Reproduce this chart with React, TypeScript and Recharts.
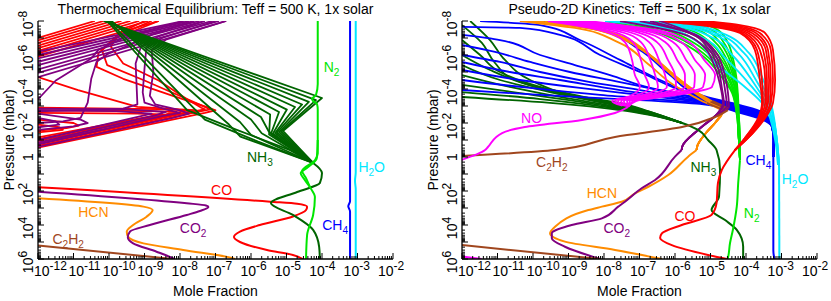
import React from 'react';
import { LineChart, Line, XAxis, YAxis, ReferenceDot } from 'recharts';

type Pt = [number, number]; // [log10 mole fraction, log10 pressure (mbar)]

const FONT = '"Liberation Sans", Arial, Helvetica, sans-serif';

// ---------- axes ----------
const X_MAJOR = [-12, -11, -10, -9, -8, -7, -6, -5, -4, -3, -2];
const Y_MAJOR = [-8, -7, -6, -5, -4, -3, -2, -1, 0, 1, 2, 3, 4, 5, 6];
const Y_LABELED = [-8, -6, -4, -2, 0, 2, 4, 6];
const MINOR_FACTORS = [2, 3, 4, 5, 6, 7, 8, 9];

// ---------- colours ----------
const RED = '#ff0000';
const PURPLE = '#800080';
const DGREEN = '#006400';
const GREEN = '#00e600';
const BLUE = '#0000ff';
const CYAN = '#00e8ff';
const ORANGE = '#ff8c00';
const BROWN = '#a0461e';
const MAGENTA = '#ff00ff';

// ================= LEFT: thermochemical equilibrium =================
const EQ_H2O: Pt[] = [[-3.05, -8], [-3.05, 0.9], [-3.07, 1.4], [-3.05, 1.9], [-3.05, 6]];
const EQ_CH4: Pt[] = [[-3.21, -8], [-3.21, 2.6], [-3.26, 2.9], [-3.21, 3.2], [-3.21, 6]];
const EQ_N2: Pt[] = [[-4.12, -8], [-4.12, -4.3], [-4.17, -3.65], [-4.28, -3.41], [-4.25, -3.29], [-4.14, -3.12], [-4.12, -2.8], [-4.12, -0.2], [-4.2, 0.2], [-4.56, 0.82], [-4.45, 1.24], [-4.34, 1.76], [-4.2, 2.35], [-4.25, 3.41], [-4.42, 4.59], [-4.45, 6]];
const EQ_N2_B: Pt[] = [[-4.12, -1.0], [-4.15, 0.1], [-4.4, 0.6], [-4.6, 0.95], [-4.5, 1.3], [-4.34, 1.76]];
const EQ_NH3: Pt[] = [[-4.25, 0.35], [-4.0, 0.94], [-4.06, 1.53], [-4.7, 2.06], [-5.44, 2.71], [-4.82, 3.41], [-4.25, 4.29], [-4.08, 5.29], [-4.06, 6]];
const EQ_CO: Pt[] = [[-12, 1.78], [-5.46, 2.63], [-4.7, 2.75], [-4.42, 2.92], [-4.45, 3.12], [-4.82, 3.5], [-5.75, 4.0], [-6.31, 4.39], [-6.48, 4.71], [-6.31, 5.0], [-5.55, 5.47], [-4.82, 5.76], [-4.54, 6]];
const EQ_CO2: Pt[] = [[-12, 2.04], [-7.81, 2.72], [-7.27, 2.85], [-7.2, 2.94], [-7.44, 3.18], [-7.81, 3.41], [-8.85, 4.0], [-9.41, 4.39], [-9.47, 4.72], [-9.32, 5.08], [-8.66, 5.57], [-8.19, 5.96], [-8.15, 6]];
const EQ_HCN: Pt[] = [[-12, 2.43], [-9.03, 2.92], [-8.77, 3.12], [-8.94, 3.51], [-9.32, 4.0], [-9.5, 4.39], [-9.46, 4.69], [-9.03, 5.08], [-7.91, 5.47], [-6.5, 5.96], [-6.45, 6]];
const EQ_C2H2: Pt[] = [[-12, 5.2], [-8.2, 6.0]];

const EQ_CO_BAND: Pt[][] = [
  [[-10.4, -8], [-12, -7.01]],
  [[-10.15, -8], [-12, -6.86]],
  [[-9.9, -8], [-12, -6.71]],
  [[-9.65, -8], [-12, -6.55]],
  [[-9.4, -8], [-12, -6.4]],
  [[-9.15, -8], [-12, -6.24]],
  [[-8.9, -8], [-12, -6.09]],
  [[-8.6, -8], [-12, -5.91]],
];
const EQ_CO_HOT: Pt[][] = [
  [[-8.6, -8], [-9.8, -7.0], [-10.3, -6.1], [-10.35, -5.3], [-9.6, -4.6], [-8.2, -3.6], [-7.2, -2.9], [-7.0, -2.75], [-7.3, -2.6], [-12, -0.55]],
  [[-8.8, -8], [-9.8, -7.1], [-10.2, -6.3], [-10.05, -5.4], [-9.0, -4.5], [-7.9, -3.5], [-7.3, -2.95], [-7.15, -2.8], [-7.5, -2.65], [-12, -0.65]],
  [[-9.0, -8], [-9.7, -7.3], [-9.95, -6.5], [-9.6, -5.5], [-8.6, -4.5], [-7.8, -3.4], [-7.4, -2.9], [-7.3, -2.8], [-7.7, -2.65], [-12, -0.75]],
  [[-12, -4.7], [-10.87, -3.94], [-9.2, -2.95], [-8.0, -2.8], [-7.55, -2.75], [-7.9, -2.6], [-12, -0.85]],
  [[-12, -2.9], [-8.6, -2.82], [-7.8, -2.75], [-8.1, -2.6], [-12, -0.95]],
  [[-12, -2.75], [-8.9, -2.7], [-8.1, -2.65], [-8.4, -2.5], [-12, -1.05]],
  [[-12, -2.6], [-9.2, -2.55], [-8.5, -2.5], [-8.8, -2.4], [-12, -1.15]],
  [[-12, -2.2], [-11.0, -2.0], [-10.85, -1.85], [-11.2, -1.7], [-12, -1.55]],
  [[-12, -1.9], [-11.4, -1.75], [-11.3, -1.6], [-12, -1.45]],
];
const EQ_CO2_BAND: Pt[][] = [
  [[-7.9, -8], [-12, -6.2]],
  [[-7.75, -8], [-12, -6.0]],
  [[-7.6, -8], [-12, -5.8]],
  [[-7.45, -8], [-12, -5.6]],
  [[-7.3, -8], [-12, -5.4]],
  [[-7.1, -8], [-12, -5.15]],
  [[-6.9, -8], [-12, -4.95]],
  [[-6.7, -8], [-12, -4.7]],
];
const EQ_CO2_HOT: Pt[][] = [
  [[-6.7, -8], [-8.4, -6.9], [-8.8, -6.3], [-8.75, -5.0], [-8.85, -3.6], [-8.7, -3.1], [-8.0, -2.75], [-7.75, -2.55], [-8.2, -2.3], [-12, -0.6]],
  [[-7.0, -8], [-8.5, -7.0], [-8.95, -6.4], [-9.0, -5.2], [-9.05, -3.8], [-9.0, -3.2], [-8.4, -2.8], [-8.0, -2.6], [-8.5, -2.4], [-12, -0.75]],
  [[-7.3, -8], [-8.6, -7.1], [-9.1, -6.5], [-9.25, -5.5], [-9.2, -3.1], [-9.6, -2.85], [-11.8, -2.7], [-12, -2.68]],
  [[-7.6, -8], [-8.8, -7.2], [-9.4, -6.6], [-10.0, -6.1], [-10.35, -5.6], [-10.5, -4.6], [-10.6, -3.2], [-10.8, -2.3], [-11.3, -2.1], [-12, -2.0]],
  [[-7.9, -8], [-9.6, -7.0], [-10.3, -6.3], [-10.5, -5.8], [-11.5, -4.5], [-12, -3.4]],
  [[-12, -2.85], [-9.5, -2.8], [-8.4, -2.65], [-8.7, -2.45], [-12, -0.85]],
  [[-12, -2.75], [-9.8, -2.7], [-8.8, -2.55], [-9.1, -2.4], [-12, -1.0]],
  [[-12, -2.55], [-10.8, -2.2], [-10.6, -2.0], [-11.0, -1.8], [-12, -1.6]],
  [[-12, -2.3], [-11.5, -2.1], [-11.4, -1.9], [-12, -1.75]],
];
const EQ_NH3_FAMILY: Pt[][] = [
  [[-10.15, -8], [-4.0, -3.47], [-5.1, -1.53], [-4.25, 0.35]],
  [[-10.13, -8], [-4.17, -3.35], [-5.15, -1.5], [-4.25, 0.35]],
  [[-10.11, -8], [-4.37, -3.24], [-5.21, -1.47], [-4.25, 0.35]],
  [[-10.09, -8], [-4.56, -3.09], [-5.27, -1.44], [-4.25, 0.35]],
  [[-10.07, -8], [-4.76, -2.94], [-5.32, -1.41], [-4.25, 0.35]],
  [[-10.05, -8], [-4.99, -2.79], [-5.38, -1.38], [-4.25, 0.35]],
  [[-10.03, -8], [-5.21, -2.65], [-5.44, -1.35], [-4.25, 0.35]],
  [[-10.01, -8], [-5.46, -2.5], [-5.49, -1.32], [-4.25, 0.35]],
  [[-9.99, -8], [-5.72, -2.35], [-5.5, -1.5], [-4.25, 0.35]],
  [[-9.97, -8], [-6.0, -2.21], [-5.7, -1.4], [-4.25, 0.35]],
  [[-9.95, -8], [-6.31, -2.06], [-6.0, -1.3], [-4.25, 0.35]],
  [[-9.93, -8], [-6.62, -1.91], [-6.3, -1.2], [-4.25, 0.35]],
  [[-10.05, -8], [-7.8, -2.76], [-6.4, -1.6], [-4.9, -0.4], [-4.25, 0.35]],
  [[-10.0, -8], [-7.3, -2.2], [-5.8, -0.9], [-4.25, 0.35]],
];

// ================= RIGHT: pseudo-2D kinetics =================
const KIN_H2O: Pt[] = [[-3.07, 0.3], [-3.06, 6]];
const KIN_CH4: Pt[] = [[-3.23, 0], [-3.23, 5.5], [-3.2, 6]];
const KIN_N2: Pt[] = [[-4.17, 0.18], [-4.22, 1.53], [-4.26, 2.92], [-4.37, 4.29], [-4.45, 5.06], [-4.51, 5.94], [-4.52, 6]];
const KIN_NH3: Pt[] = [[-7.49, -2.94], [-6.76, -2.59], [-5.8, -2.0], [-5.35, -1.59], [-5.07, -1.0], [-4.83, -0.41], [-4.73, 0.76], [-4.76, 2.34], [-4.97, 3.12], [-4.59, 3.71], [-4.26, 4.29], [-4.08, 5.28], [-4.08, 6]];
const KIN_CO: Pt[] = [[-4.31, -0.41], [-4.68, 0.76], [-4.79, 1.53], [-4.83, 2.71], [-4.97, 3.41], [-5.81, 4.0], [-6.37, 4.49], [-6.42, 4.76], [-6.09, 5.18], [-5.07, 5.76], [-4.54, 6]];
const KIN_HCN: Pt[] = [[-5.39, -0.41], [-5.63, -0.02], [-6.19, 1.06], [-6.75, 1.75], [-7.13, 2.14], [-7.5, 2.63], [-8.06, 2.92], [-8.44, 3.12], [-9.38, 4.1], [-9.52, 4.49], [-9.1, 4.98], [-7.69, 5.47], [-6.37, 6.0]];
const KIN_CO2: Pt[] = [[-5.81, -0.41], [-6.0, -0.02], [-6.56, 1.35], [-6.94, 1.84], [-7.41, 2.63], [-7.6, 2.92], [-8.06, 3.61], [-8.91, 4.0], [-9.47, 4.49], [-9.47, 4.78], [-9.1, 5.28], [-8.11, 6.0]];
const KIN_C2H2: Pt[] = [[-4.51, -2.76], [-4.87, -2.35], [-5.8, -1.76], [-7.69, -1.18], [-9.38, -0.41], [-12.03, -0.06]];
const KIN_C2H2_DEEP: Pt[] = [[-12, 5.18], [-8.11, 6.0]];
const KIN_NO: Pt[] = [[-7.32, -2.94], [-7.69, -2.59], [-8.62, -2.18], [-10.23, -1.76], [-10.87, -1.41], [-11.27, -0.59], [-11.35, -0.41], [-12.03, 0.18]];
const KIN_NO_DEEP: Pt[] = [[-12, 5.85], [-11.45, 6.0]];

const KIN_CH4_FAMILY: Pt[][] = [
  [[-12, -7.65], [-10.37, -7.59], [-9.24, -7.18], [-8.11, -6.0], [-6.99, -5.0], [-5.86, -3.94], [-5.3, -3.53], [-4.17, -2.95], [-3.55, -2.55], [-3.27, -1.9], [-3.22, -1.0], [-3.23, 0]],
  [[-12, -7.18], [-10.93, -6.88], [-9.8, -6.0], [-8.82, -5.41], [-7.83, -4.82], [-6.7, -4.06], [-5.3, -3.47], [-4.17, -2.9], [-3.55, -2.5], [-3.27, -1.88], [-3.22, -1.0], [-3.23, 0]],
  [[-12, -6.59], [-11.07, -6.18], [-10.08, -5.59], [-8.96, -5.0], [-7.55, -4.41], [-5.3, -3.41], [-4.17, -2.85], [-3.55, -2.45], [-3.27, -1.86], [-3.22, -1.0], [-3.23, 0]],
  [[-12, -6.0], [-10.93, -5.59], [-9.8, -5.0], [-8.39, -4.41], [-6.99, -3.94], [-5.3, -3.35], [-4.17, -2.8], [-3.55, -2.4], [-3.27, -1.84], [-3.22, -1.0], [-3.23, 0]],
  [[-12, -5.59], [-10.65, -5.0], [-9.24, -4.53], [-7.55, -3.94], [-5.3, -3.29], [-4.17, -2.75], [-3.55, -2.35], [-3.27, -1.82], [-3.22, -1.0], [-3.23, 0]],
  [[-12, -5.12], [-10.37, -4.53], [-8.68, -4.06], [-6.99, -3.65], [-5.3, -3.24], [-4.17, -2.7], [-3.55, -2.3], [-3.27, -1.8], [-3.22, -1.0], [-3.23, 0]],
  [[-12, -4.53], [-10.08, -4.06], [-8.11, -3.65], [-5.3, -3.18], [-4.17, -2.65], [-3.55, -2.25], [-3.27, -1.78], [-3.22, -1.0], [-3.23, 0]],
  [[-12, -3.94], [-9.8, -3.65], [-7.55, -3.41], [-5.3, -3.12], [-4.17, -2.6], [-3.55, -2.2], [-3.27, -1.76], [-3.22, -1.0], [-3.23, 0]],
  [[-11.49, -8], [-9.8, -7.76], [-8.68, -6.88], [-7.55, -5.71], [-6.42, -4.53], [-5.3, -3.59], [-4.17, -3.0], [-3.55, -2.6], [-3.27, -1.92], [-3.22, -1.0], [-3.23, 0]],
  [[-9.8, -8], [-8.11, -7.47], [-6.99, -6.29], [-6.14, -4.82], [-5.3, -3.65], [-4.17, -3.05], [-3.55, -2.65], [-3.27, -1.94], [-3.22, -1.0], [-3.23, 0]],
];
const KIN_NH3_FAMILY: Pt[][] = [
  [[-12, -7.76], [-11.44, -6.71], [-11.07, -5.53], [-10.51, -4.53], [-9.24, -3.76], [-7.49, -3.15], [-6.76, -2.7], [-5.8, -2.0]],
  [[-12, -6.88], [-11.49, -6.0], [-10.93, -5.0], [-9.8, -4.12], [-7.49, -3.05], [-6.76, -2.65], [-5.8, -2.0]],
  [[-12, -6.0], [-11.21, -5.12], [-10.37, -4.41], [-8.96, -3.65], [-7.49, -3.0], [-6.76, -2.62], [-5.8, -2.0]],
  [[-12, -5.41], [-10.93, -4.53], [-9.52, -3.82], [-7.49, -2.95], [-6.76, -2.6], [-5.8, -2.0]],
  [[-12, -4.82], [-10.65, -4.12], [-9.24, -3.53], [-7.49, -2.9], [-6.76, -2.57], [-5.8, -2.0]],
  [[-12, -4.24], [-10.37, -3.76], [-7.49, -2.85], [-6.76, -2.55], [-5.8, -2.0]],
  [[-12, -3.82], [-9.8, -3.41], [-7.49, -2.8], [-6.76, -2.52], [-5.8, -2.0]],
  [[-12, -3.53], [-9.52, -3.18], [-7.49, -2.75], [-6.76, -2.5], [-5.8, -2.0]],
  [[-11.77, -8], [-11.21, -6.88], [-10.79, -5.71], [-10.08, -4.53], [-8.68, -3.53], [-7.49, -3.1], [-6.76, -2.68], [-5.8, -2.0]],
];
const KIN_H2O_FAMILY: Pt[][] = [
  [[-7.97, -8], [-6.42, -7.65], [-5.44, -6.88], [-4.87, -5.53], [-4.03, -4.12], [-3.46, -2.94], [-3.18, -1.0], [-3.1, 0.47]],
  [[-7.83, -8], [-6.2, -7.68], [-5.2, -7.0], [-4.6, -5.85], [-3.9, -4.29], [-3.41, -2.94], [-3.15, -1.0], [-3.1, 0.47]],
  [[-7.69, -8], [-6.03, -7.71], [-5.02, -7.1], [-4.39, -6.0], [-3.8, -4.41], [-3.38, -2.94], [-3.15, -1.0], [-3.07, 0.47]],
  [[-7.55, -8], [-5.86, -7.73], [-4.88, -7.18], [-4.21, -6.06], [-3.72, -4.53], [-3.32, -2.94], [-3.13, -1.0], [-3.07, 0.47]],
  [[-7.38, -8], [-5.72, -7.76], [-4.8, -7.24], [-4.06, -6.12], [-3.63, -4.65], [-3.3, -2.94], [-3.13, -1.0], [-3.07, 0.47]],
  [[-7.21, -8], [-5.58, -7.78], [-4.68, -7.29], [-3.92, -6.12], [-3.55, -4.71], [-3.27, -2.94], [-3.13, -1.0], [-3.07, 0.47]],
];
const KIN_N2_FAMILY: Pt[][] = [
  [[-7.97, -8], [-6.7, -7.47], [-5.8, -6.71], [-5.15, -5.82], [-4.73, -4.82], [-4.39, -3.76], [-4.25, -2.35], [-4.2, -1.0], [-4.17, 0.18]],
  [[-7.69, -8], [-6.48, -7.47], [-5.63, -6.71], [-5.04, -5.82], [-4.65, -4.82], [-4.37, -3.76], [-4.25, -2.35], [-4.2, -1.0], [-4.17, 0.18]],
  [[-7.41, -8], [-6.25, -7.47], [-5.46, -6.71], [-4.93, -5.82], [-4.56, -4.82], [-4.34, -3.76], [-4.23, -2.35], [-4.2, -1.0], [-4.17, 0.18]],
  [[-7.13, -8], [-6.03, -7.47], [-5.3, -6.71], [-4.82, -5.82], [-4.51, -4.82], [-4.31, -3.76], [-4.23, -2.35], [-4.2, -1.0], [-4.17, 0.18]],
  [[-6.85, -8], [-5.8, -7.47], [-5.13, -6.71], [-4.73, -5.82], [-4.45, -4.82], [-4.28, -3.76], [-4.23, -2.35], [-4.2, -1.0], [-4.17, 0.18]],
  [[-6.56, -8], [-5.58, -7.47], [-4.99, -6.71], [-4.65, -5.82], [-4.42, -4.82], [-4.28, -3.76], [-4.23, -2.35], [-4.2, -1.0], [-4.17, 0.18]],
  [[-6.28, -8], [-5.35, -7.47], [-4.85, -6.71], [-4.56, -5.82], [-4.37, -4.82], [-4.25, -3.76], [-4.23, -2.35], [-4.2, -1.0], [-4.17, 0.18]],
  [[-6.0, -8], [-5.15, -7.47], [-4.73, -6.71], [-4.48, -5.82], [-4.34, -4.82], [-4.25, -3.76], [-4.23, -2.35], [-4.2, -1.0], [-4.17, 0.18]],
  [[-5.72, -8], [-4.96, -7.47], [-4.62, -6.71], [-4.42, -5.82], [-4.31, -4.82], [-4.25, -3.76], [-4.2, -2.35], [-4.17, -1.0], [-4.17, 0.18]],
  [[-5.44, -8], [-4.79, -7.47], [-4.51, -6.71], [-4.37, -5.82], [-4.28, -4.82], [-4.23, -3.76], [-4.2, -2.35], [-4.17, -1.0], [-4.17, 0.18]],
];
const KIN_CO_FAMILY: Pt[][] = [
  [[-5.15, -8], [-4.17, -7.76], [-3.46, -7.29], [-3.24, -6.29], [-3.18, -4.53], [-3.24, -3.18], [-3.46, -2.29], [-3.94, -1.12], [-4.31, -0.41]],
  [[-5.35, -8], [-4.34, -7.76], [-3.61, -7.29], [-3.3, -6.29], [-3.24, -4.53], [-3.3, -3.18], [-3.49, -2.29], [-3.94, -1.12], [-4.31, -0.41]],
  [[-5.52, -8], [-4.51, -7.76], [-3.72, -7.29], [-3.38, -6.29], [-3.3, -4.53], [-3.32, -3.18], [-3.52, -2.29], [-3.97, -1.12], [-4.31, -0.41]],
  [[-5.72, -8], [-4.65, -7.76], [-3.83, -7.29], [-3.44, -6.29], [-3.35, -4.53], [-3.38, -3.18], [-3.55, -2.29], [-3.97, -1.12], [-4.31, -0.41]],
  [[-5.89, -8], [-4.82, -7.76], [-3.94, -7.29], [-3.52, -6.29], [-3.41, -4.53], [-3.41, -3.18], [-3.58, -2.29], [-4.0, -1.12], [-4.31, -0.41]],
  [[-6.08, -8], [-4.96, -7.76], [-4.03, -7.29], [-3.61, -6.29], [-3.46, -4.53], [-3.46, -3.18], [-3.61, -2.29], [-4.0, -1.12], [-4.31, -0.41]],
  [[-6.25, -8], [-5.13, -7.76], [-4.11, -7.29], [-3.69, -6.29], [-3.55, -4.53], [-3.52, -3.18], [-3.63, -2.29], [-4.03, -1.12], [-4.31, -0.41]],
  [[-6.45, -8], [-5.3, -7.76], [-4.17, -7.29], [-3.75, -6.29], [-3.61, -4.53], [-3.55, -3.18], [-3.66, -2.29], [-4.03, -1.12], [-4.31, -0.41]],
];
const KIN_HCN_FAMILY: Pt[][] = [
  [[-10.23, -8], [-8.68, -7.65], [-7.41, -6.88], [-6.56, -5.71], [-5.86, -4.41], [-5.15, -3.35], [-4.68, -2.76], [-4.85, -2.06], [-5.13, -1.41], [-5.38, -0.59], [-5.39, -0.41]],
  [[-9.94, -8], [-8.39, -7.59], [-7.13, -6.59], [-6.37, -5.35], [-5.69, -4.18], [-5.01, -3.24], [-4.68, -2.71], [-4.85, -2.06], [-5.13, -1.41], [-5.38, -0.59], [-5.39, -0.41]],
  [[-9.66, -8], [-8.17, -7.47], [-6.93, -6.29], [-6.2, -5.12], [-5.52, -3.94], [-4.9, -3.12], [-4.68, -2.65], [-4.85, -2.06], [-5.13, -1.41], [-5.38, -0.59], [-5.39, -0.41]],
  [[-9.38, -8], [-7.97, -7.41], [-6.76, -6.06], [-6.03, -4.82], [-5.35, -3.76], [-4.79, -3.0], [-4.68, -2.59], [-4.85, -2.06], [-5.13, -1.41], [-5.38, -0.59], [-5.39, -0.41]],
  [[-9.1, -8], [-7.77, -7.29], [-6.59, -5.82], [-5.86, -4.53], [-5.24, -3.59], [-4.73, -2.88], [-4.68, -2.53], [-4.85, -2.06], [-5.13, -1.41], [-5.38, -0.59], [-5.39, -0.41]],
  [[-10.37, -8], [-8.82, -7.59], [-7.61, -6.76], [-6.76, -5.47], [-6.08, -4.29], [-5.3, -3.35], [-4.68, -2.65], [-4.85, -2.06], [-5.13, -1.41], [-5.38, -0.59], [-5.39, -0.41]],
];
const KIN_CO2_FAMILY: Pt[][] = [
  [[-6.99, -8], [-5.58, -7.29], [-5.07, -6.41], [-4.79, -5.24], [-4.68, -4.06], [-4.62, -3.12], [-4.87, -2.41], [-5.35, -1.59], [-5.8, -0.59], [-5.81, -0.41]],
  [[-6.7, -8], [-5.44, -7.18], [-4.96, -6.29], [-4.7, -5.12], [-4.59, -3.94], [-4.54, -3.0], [-4.87, -2.41], [-5.35, -1.59], [-5.8, -0.59], [-5.81, -0.41]],
  [[-6.42, -8], [-5.3, -7.06], [-4.85, -6.18], [-4.62, -5.0], [-4.51, -3.82], [-4.48, -2.94], [-4.87, -2.41], [-5.35, -1.59], [-5.8, -0.59], [-5.81, -0.41]],
  [[-7.55, -8], [-5.86, -7.29], [-5.21, -6.53], [-4.9, -5.41], [-4.73, -4.24], [-4.65, -3.18], [-4.87, -2.41], [-5.35, -1.59], [-5.8, -0.59], [-5.81, -0.41]],
];
const KIN_C2H2_FAMILY: Pt[][] = [
  [[-5.0, -3.25], [-4.5, -2.8]],
  [[-5.1, -3.15], [-4.55, -2.72]],
  [[-4.95, -3.3], [-4.48, -2.85]],
];
const KIN_NO_FAMILY: Pt[][] = [
  [[-9.58, -8], [-8.11, -7.47], [-7.41, -6.76], [-7.21, -5.71], [-7.13, -4.82], [-6.99, -4.12], [-7.27, -3.59], [-7.77, -3.29], [-7.32, -2.94]],
  [[-9.44, -8], [-7.92, -7.47], [-7.18, -6.76], [-6.96, -5.71], [-6.85, -4.82], [-6.73, -4.12], [-7.13, -3.59], [-7.69, -3.29], [-7.32, -2.94]],
  [[-9.3, -8], [-7.72, -7.47], [-6.96, -6.76], [-6.7, -5.71], [-6.56, -4.82], [-6.48, -4.12], [-6.99, -3.59], [-7.61, -3.29], [-7.32, -2.94]],
  [[-9.15, -8], [-7.52, -7.47], [-6.73, -6.76], [-6.45, -5.71], [-6.28, -4.82], [-6.23, -4.12], [-6.85, -3.59], [-7.52, -3.29], [-7.32, -2.94]],
  [[-9.01, -8], [-7.32, -7.47], [-6.51, -6.76], [-6.2, -5.71], [-6.0, -4.82], [-5.97, -4.12], [-6.7, -3.59], [-7.44, -3.29], [-7.32, -2.94]],
  [[-8.87, -8], [-7.13, -7.47], [-6.28, -6.76], [-5.94, -5.71], [-5.72, -4.82], [-5.72, -4.12], [-6.56, -3.59], [-7.35, -3.29], [-7.32, -2.94]],
  [[-8.73, -8], [-6.93, -7.47], [-6.06, -6.76], [-5.69, -5.71], [-5.44, -4.82], [-5.46, -4.12], [-6.42, -3.59], [-7.27, -3.29], [-7.32, -2.94]],
  [[-8.59, -8], [-6.73, -7.47], [-5.83, -6.76], [-5.44, -5.71], [-5.15, -4.82], [-5.21, -4.12], [-6.28, -3.59], [-7.18, -3.29], [-7.32, -2.94]],
  [[-8.45, -8], [-6.54, -7.47], [-5.61, -6.76], [-5.18, -5.71], [-4.87, -4.82], [-4.96, -4.12], [-6.14, -3.59], [-7.1, -3.29], [-7.32, -2.94]],
];

// ---------- species labels ----------
type Lab = { t: string; x: number; y: number; c: string };
const EQ_LABELS: Lab[] = [
  { t: 'N_2', x: -3.73, y: -5.31, c: GREEN },
  { t: 'NH_3', x: -5.75, y: -0.02, c: DGREEN },
  { t: 'H_2O', x: -2.6, y: 0.57, c: CYAN },
  { t: 'CO', x: -6.83, y: 1.94, c: RED },
  { t: 'CH_4', x: -3.63, y: 4.0, c: BLUE },
  { t: 'CO_2', x: -7.63, y: 4.19, c: PURPLE },
  { t: 'HCN', x: -10.44, y: 3.22, c: ORANGE },
  { t: 'C_2H_2', x: -11.15, y: 4.84, c: BROWN },
];
const KIN_LABELS: Lab[] = [
  { t: 'NO', x: -10.04, y: -2.28, c: MAGENTA },
  { t: 'C_2H_2', x: -9.47, y: 0.28, c: BROWN },
  { t: 'NH_3', x: -5.2, y: 0.57, c: DGREEN },
  { t: 'CH_4', x: -3.65, y: 0.18, c: BLUE },
  { t: 'H_2O', x: -2.62, y: 1.31, c: CYAN },
  { t: 'HCN', x: -8.06, y: 2.1, c: ORANGE },
  { t: 'CO', x: -5.72, y: 3.47, c: RED },
  { t: 'N_2', x: -3.84, y: 3.31, c: GREEN },
  { t: 'CO_2', x: -7.64, y: 4.19, c: PURPLE },
];

// ---------- series assembly ----------
type Curve = 'linear' | 'monotoneY';
type Series = { color: string; width: number; pts: Pt[]; curve: Curve };
const fam = (list: Pt[][], color: string, curve: Curve = 'monotoneY', width = 1.8): Series[] =>
  list.map((pts) => ({ color, width, pts, curve }));
const one = (pts: Pt[], color: string, curve: Curve = 'monotoneY', width = 2): Series => ({ color, width, pts, curve });

const LEFT_SERIES: Series[] = [
  ...fam(EQ_CO_BAND, RED, 'linear'),
  ...fam(EQ_CO_HOT, RED, 'linear'),
  ...fam(EQ_CO2_BAND, PURPLE, 'linear'),
  ...fam(EQ_CO2_HOT, PURPLE, 'linear'),
  ...fam(EQ_NH3_FAMILY, DGREEN, 'linear'),
  one(EQ_C2H2, BROWN),
  one(EQ_HCN, ORANGE),
  one(EQ_CO2, PURPLE),
  one(EQ_CO, RED),
  one(EQ_NH3, DGREEN),
  one(EQ_N2, GREEN),
  one(EQ_N2_B, GREEN),
  one(EQ_CH4, BLUE),
  one(EQ_H2O, CYAN),
];
const RIGHT_SERIES: Series[] = [
  ...fam(KIN_NH3_FAMILY, DGREEN),
  ...fam(KIN_CH4_FAMILY, BLUE),
  ...fam(KIN_N2_FAMILY, GREEN),
  ...fam(KIN_H2O_FAMILY, CYAN),
  ...fam(KIN_CO_FAMILY, RED),
  ...fam(KIN_HCN_FAMILY, ORANGE),
  ...fam(KIN_C2H2_FAMILY, BROWN),
  ...fam(KIN_CO2_FAMILY, PURPLE),
  ...fam(KIN_NO_FAMILY, MAGENTA),
  one(KIN_NH3, DGREEN),
  one(KIN_CH4, BLUE),
  one(KIN_H2O, CYAN),
  one(KIN_N2, GREEN),
  one(KIN_CO, RED),
  one(KIN_HCN, ORANGE),
  one(KIN_CO2, PURPLE),
  one(KIN_C2H2, BROWN),
  one(KIN_C2H2_DEEP, BROWN),
  one(KIN_NO, MAGENTA),
  one(KIN_NO_DEEP, MAGENTA),
];

// ---------- ticks ----------
const withMinors = (majors: number[]) => {
  const out: number[] = [];
  majors.forEach((m, i) => {
    out.push(m);
    if (i < majors.length - 1) MINOR_FACTORS.forEach((k) => out.push(m + Math.log10(k)));
  });
  return out;
};
const X_TICKS = withMinors(X_MAJOR);
const Y_TICKS = withMinors(Y_MAJOR);
const isInt = (v: number) => Math.abs(v - Math.round(v)) < 1e-6;
const MAJ = 6;
const MIN = 3;
const EXP_SIZE = 12;

const BottomTick = (p: any) => {
  const v = p.payload.value;
  const major = isInt(v);
  return (
    <g>
      <line x1={p.x} x2={p.x} y1={p.y} y2={p.y - (major ? MAJ : MIN)} stroke="#000" strokeWidth={1} />
      {major && (
        <text x={p.x - 4 - 1.1 * (v + 12)} y={p.y + 17} fontSize={14} fontFamily={FONT} fill="#000">
          10<tspan dy={-6} fontSize={EXP_SIZE}>{String(Math.round(v))}</tspan>
        </text>
      )}
    </g>
  );
};
const TopTick = (p: any) => {
  const major = isInt(p.payload.value);
  return <line x1={p.x} x2={p.x} y1={p.y} y2={p.y + (major ? MAJ : MIN)} stroke="#000" strokeWidth={1} />;
};
const LeftTick = (p: any) => {
  const v = p.payload.value;
  const major = isInt(v);
  const r = Math.round(v);
  const labeled = major && Y_LABELED.includes(r);
  const bx = p.x - 5;
  const cy = r === 0 ? p.y : p.y + 3;
  return (
    <g>
      <line x1={p.x} x2={p.x + (major ? MAJ : MIN)} y1={p.y} y2={p.y} stroke="#000" strokeWidth={1} />
      {labeled && (
        <text transform={`rotate(-90 ${bx} ${cy})`} x={bx} y={cy} textAnchor="middle" fontSize={14} fontFamily={FONT} fill="#000">
          {r === 0 ? '1' : (<>10<tspan dy={-6} fontSize={EXP_SIZE}>{String(r)}</tspan></>)}
        </text>
      )}
    </g>
  );
};
const RightTick = (p: any) => {
  const major = isInt(p.payload.value);
  return <line x1={p.x} x2={p.x - (major ? MAJ : MIN)} y1={p.y} y2={p.y} stroke="#000" strokeWidth={1} />;
};

const chem = (s: string, size: number) => {
  const parts: React.ReactNode[] = [];
  let buf = '';
  let lowered = false;
  let key = 0;
  for (let i = 0; i < s.length; i++) {
    if (s[i] === '_') {
      if (buf) parts.push(<tspan key={key++} fontSize={size}>{buf}</tspan>);
      buf = '';
      parts.push(<tspan key={key++} dy={lowered ? 0 : 4} fontSize={size * 0.72}>{s[i + 1]}</tspan>);
      lowered = true;
      i++;
    } else if (lowered) {
      parts.push(<tspan key={key++} dy={-4} fontSize={size}>{s[i]}</tspan>);
      lowered = false;
    } else buf += s[i];
  }
  if (buf) parts.push(<tspan key={key++} fontSize={size}>{buf}</tspan>);
  return parts;
};

const AX = { stroke: '#000', strokeWidth: 1.3 };

function Panel({ left, width, mr, series, labels }: { left: number; width: number; mr: number; series: Series[]; labels: Lab[] }) {
  return (
    <div style={{ position: 'absolute', left, top: 0, width, height: 301 }}>
      <LineChart width={width} height={301} margin={{ top: 21, right: mr, bottom: 0, left: 0 }}>
        <XAxis type="number" dataKey="x" domain={[-12, -2]} allowDataOverflow ticks={X_TICKS} interval={0} tickSize={0} tickMargin={0} height={42} tick={BottomTick} tickLine={false} axisLine={AX} />
        <XAxis xAxisId="top" orientation="top" type="number" dataKey="x" domain={[-12, -2]} allowDataOverflow ticks={X_TICKS} interval={0} tickSize={0} tickMargin={0} height={0} tick={TopTick} tickLine={false} axisLine={AX} />
        <YAxis type="number" domain={[-8, 6]} reversed allowDataOverflow ticks={Y_TICKS} interval={0} tickSize={0} tickMargin={0} width={38} tick={LeftTick} tickLine={false} axisLine={AX} />
        <YAxis yAxisId="right" orientation="right" type="number" domain={[-8, 6]} reversed allowDataOverflow ticks={Y_TICKS} interval={0} tickSize={0} tickMargin={0} width={0} tick={RightTick} tickLine={false} axisLine={AX} />
        {series.map((s, i) => (
          <Line key={i} data={s.pts.map(([x, y]) => ({ x, y }))} dataKey="y" stroke={s.color} strokeWidth={s.width} dot={false} activeDot={false} isAnimationActive={false} type={s.curve} strokeLinejoin="round" />
        ))}
        {labels.map((l, i) => (
          <ReferenceDot key={'l' + i} x={l.x} y={l.y} r={1} ifOverflow="visible"
            shape={(p: any) => (
              <text x={p.cx} y={p.cy + 5} textAnchor="middle" fill={l.c} fontSize={14} fontFamily={FONT}>{chem(l.t, 14)}</text>
            )} />
        ))}
      </LineChart>
    </div>
  );
}

export default function App() {
  return (
    <div style={{ position: 'absolute', left: 0, top: 0, width: 831, height: 301, background: '#fff', fontFamily: FONT }}>
      <Panel left={0} width={415} mr={22} series={LEFT_SERIES} labels={EQ_LABELS} />
      <Panel left={424} width={407} mr={14} series={RIGHT_SERIES} labels={KIN_LABELS} />
      <svg width={831} height={301} style={{ position: 'absolute', left: 0, top: 0, pointerEvents: 'none' }}>
        <text x={215.5} y={13.5} textAnchor="middle" fontSize={14} fontFamily={FONT} fill="#000">Thermochemical Equilibrium: Teff = 500 K, 1x solar</text>
        <text x={639.5} y={13.5} textAnchor="middle" fontSize={14} fontFamily={FONT} fill="#000">Pseudo-2D Kinetics: Teff = 500 K, 1x solar</text>
        <text x={215.5} y={296} textAnchor="middle" fontSize={14} fontFamily={FONT} fill="#000">Mole Fraction</text>
        <text x={639.5} y={296} textAnchor="middle" fontSize={14} fontFamily={FONT} fill="#000">Mole Fraction</text>
        <text transform="rotate(-90 14 140)" x={14} y={140} textAnchor="middle" fontSize={14} fontFamily={FONT} fill="#000">Pressure (mbar)</text>
        <text transform="rotate(-90 438 140)" x={438} y={140} textAnchor="middle" fontSize={14} fontFamily={FONT} fill="#000">Pressure (mbar)</text>
      </svg>
    </div>
  );
}
